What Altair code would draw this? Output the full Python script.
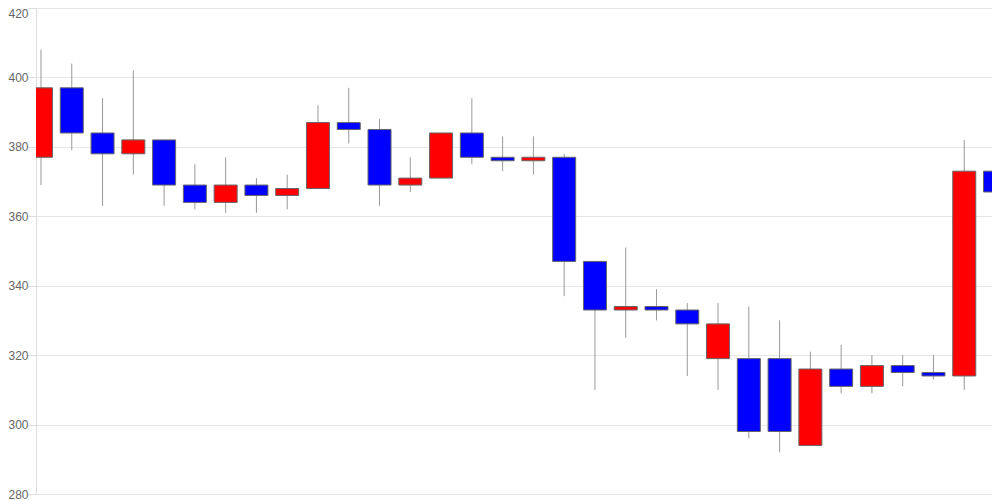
import altair as alt
import pandas as pd

opens  = [377, 397, 384, 378, 382, 369, 364, 369, 366, 368, 387, 385, 369, 371, 384, 377,
          376, 377, 347, 333, 334, 333, 319, 319, 319, 294, 316, 311, 317, 315, 314, 373]
closes = [397, 384, 378, 382, 369, 364, 369, 366, 368, 387, 385, 369, 371, 384, 377, 376,
          377, 347, 333, 334, 333, 329, 329, 298, 298, 316, 311, 317, 315, 314, 373, 367]
highs  = [408, 404, 394, 402, 382, 375, 377, 371, 372, 392, 397, 388, 377, 384, 394, 383,
          383, 378, 347, 351, 339, 335, 335, 334, 330, 321, 323, 320, 320, 320, 382, 383]
lows   = [369, 379, 363, 372, 363, 362, 361, 361, 362, 368, 381, 363, 367, 371, 375, 373,
          372, 337, 310, 325, 330, 314, 310, 296, 292, 294, 309, 309, 311, 313, 310, 353]
y_ticks = [280, 300, 320, 340, 360, 380, 400, 420]

opens[22], closes[22] = 319, 329

idx = list(range(len(opens)))
df = pd.DataFrame({"i": idx, "open": opens, "close": closes, "high": highs, "low": lows})
df["dir"] = ["up" if c > o else "down" for o, c in zip(opens, closes)]

PLOT_W = 956
STEP = 31.1
x = alt.X("i:Q", scale=alt.Scale(domain=[0, PLOT_W / STEP], nice=False, zero=False), axis=None)
yscale = alt.Scale(domain=[280, 420], nice=False, zero=False)

wick = alt.Chart(df).mark_rule(color="#999999", strokeWidth=1, clip=True).encode(
    x=x,
    y=alt.Y("low:Q", scale=yscale,
            axis=alt.Axis(values=y_ticks,
                          grid=True, gridColor="#e6e6e6", domainColor="#dddddd",
                          tickColor="#dddddd", tickSize=8, labelPadding=0,
                          labelColor="#666666", labelFont="Liberation Sans",
                          labelFontSize=12, title=None,
                          labelBaseline={"condition": {"test": "datum.value >= 420", "value": "top"},
                                         "value": "middle"})),
    y2="high:Q",
)

body = alt.Chart(df).mark_bar(size=23, stroke="#666666", strokeWidth=1, clip=True).encode(
    x=x,
    y=alt.Y("open:Q", scale=yscale),
    y2="close:Q",
    color=alt.Color("dir:N", scale=alt.Scale(domain=["up", "down"], range=["#ff0000", "#0000ff"]),
                    legend=None),
)

chart = (wick + body).properties(
    width=PLOT_W, height=486,
    autosize=alt.AutoSizeParams(type="none"),
    padding={"left": 28, "top": 0, "right": 0, "bottom": 6},
).configure_view(stroke=None).configure(background="white")

chart.save("out.html", embed_options={"renderer": "svg", "actions": False})
